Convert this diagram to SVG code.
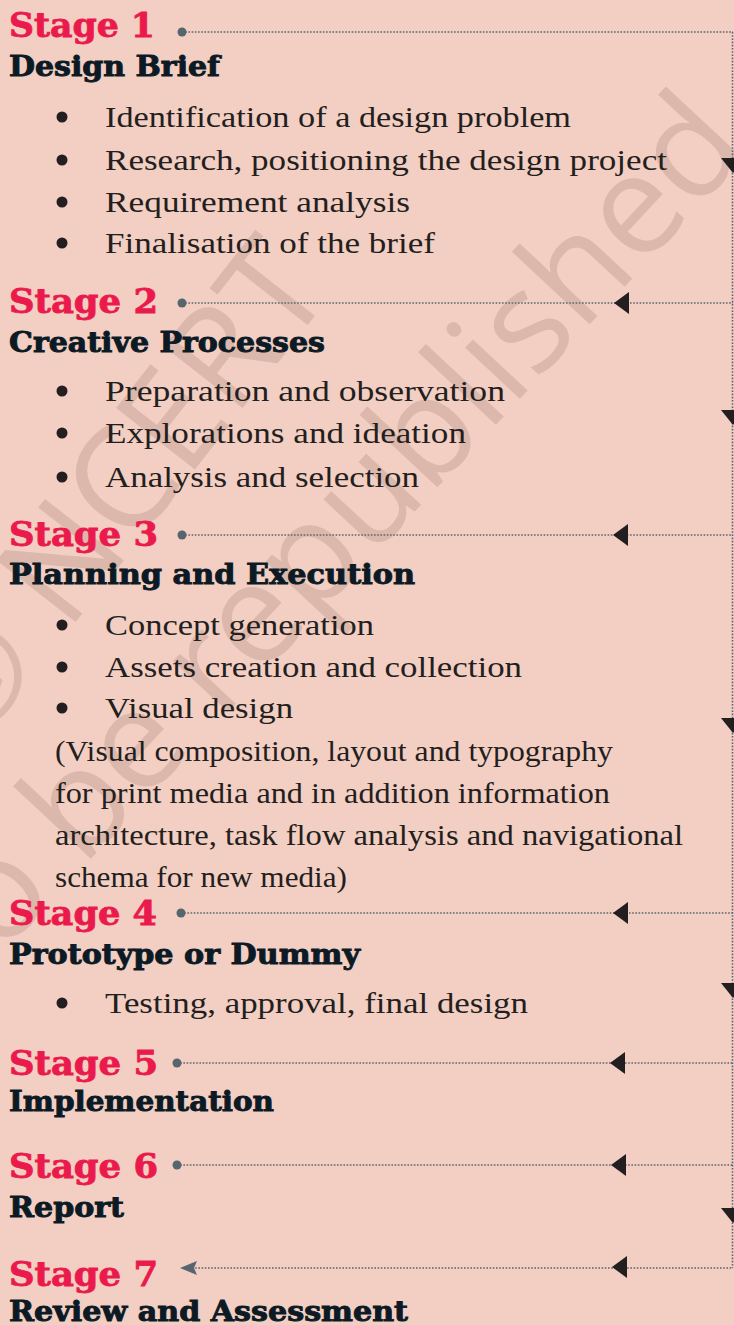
<svg xmlns="http://www.w3.org/2000/svg" width="734" height="1325" viewBox="0 0 734 1325">
<style>
.stg{font-family:"DejaVu Serif","Liberation Serif",serif;font-weight:bold;font-size:33px;fill:#ea1a4c;stroke:#ea1a4c;stroke-width:0.8}
.ttl{font-family:"DejaVu Serif","Liberation Serif",serif;font-weight:bold;font-size:27px;fill:#0b1a24;stroke:#0b1a24;stroke-width:0.9}
.bul{font-family:"Liberation Serif",serif;font-size:29px;fill:#231f20}
.mk{fill:#231f20}
.wm{font-family:"Open Sans",sans-serif;font-size:140px;fill:#dcb7ab}
.ln{stroke:#5b6670;stroke-width:1.6;stroke-dasharray:1.6 1.6;fill:none}
.ah{fill:#231f20}
.dt{fill:#56656f}
</style>
<rect width="734" height="1325" fill="#f3cec2"/>
<g id="watermark">
<text class="wm" transform="translate(335,290) rotate(-52)" text-anchor="end">© NCERT</text>
<text class="wm" transform="translate(752,150) rotate(-47)" text-anchor="end">not to be republished</text>
</g>
<g id="connectors">
<path class="ln" d="M732.5 32V1268"/>
<path class="ln" d="M182 32H733M182 303H733M182 535H733M181 913H733M177 1063H733M177 1165H733M192 1268H733"/>
<circle class="dt" cx="182" cy="32" r="4.5"/>
<circle class="dt" cx="182" cy="303" r="4.5"/>
<circle class="dt" cx="182" cy="535" r="4.5"/>
<circle class="dt" cx="181" cy="913" r="4.5"/>
<circle class="dt" cx="177" cy="1063" r="4.5"/>
<circle class="dt" cx="177" cy="1165" r="4.5"/>
<polygon class="dt" points="180,1268 197,1261 194,1268 197,1275"/>
<polygon class="ah" points="614,303 629,292 629,314"/>
<polygon class="ah" points="613,535 628,524 628,546"/>
<polygon class="ah" points="613,913 628,902 628,924"/>
<polygon class="ah" points="610,1063 625,1052 625,1074"/>
<polygon class="ah" points="611,1165 626,1154 626,1176"/>
<polygon class="ah" points="612,1267 627,1256 627,1278"/>
<polygon class="ah" points="721,158 745,158 733,173"/>
<polygon class="ah" points="721,410 745,410 733,425"/>
<polygon class="ah" points="721,718 745,718 733,733"/>
<polygon class="ah" points="721,983 745,983 733,998"/>
<polygon class="ah" points="721,1208 745,1208 733,1223"/>
</g>
<g id="stage1">
<text class="stg" x="9" y="37" textLength="146" lengthAdjust="spacingAndGlyphs">Stage 1</text>
<text class="ttl" x="9" y="76" textLength="211" lengthAdjust="spacingAndGlyphs">Design Brief</text>
<circle class="mk" cx="62" cy="117" r="5.5"/>
<text class="bul" x="105" y="127" textLength="466" lengthAdjust="spacingAndGlyphs">Identification of a design problem</text>
<circle class="mk" cx="62" cy="160" r="5.5"/>
<text class="bul" x="105" y="170" textLength="562" lengthAdjust="spacingAndGlyphs">Research, positioning the design project</text>
<circle class="mk" cx="62" cy="202" r="5.5"/>
<text class="bul" x="105" y="212" textLength="305" lengthAdjust="spacingAndGlyphs">Requirement analysis</text>
<circle class="mk" cx="62" cy="243" r="5.5"/>
<text class="bul" x="105" y="253" textLength="330" lengthAdjust="spacingAndGlyphs">Finalisation of the brief</text>
</g>
<g id="stage2">
<text class="stg" x="9" y="313" textLength="149" lengthAdjust="spacingAndGlyphs">Stage 2</text>
<text class="ttl" x="9" y="352" textLength="316" lengthAdjust="spacingAndGlyphs">Creative Processes</text>
<circle class="mk" cx="62" cy="391" r="5.5"/>
<text class="bul" x="105" y="401" textLength="400" lengthAdjust="spacingAndGlyphs">Preparation and observation</text>
<circle class="mk" cx="62" cy="433" r="5.5"/>
<text class="bul" x="105" y="443" textLength="361" lengthAdjust="spacingAndGlyphs">Explorations and ideation</text>
<circle class="mk" cx="62" cy="477" r="5.5"/>
<text class="bul" x="105" y="487" textLength="314" lengthAdjust="spacingAndGlyphs">Analysis and selection</text>
</g>
<g id="stage3">
<text class="stg" x="9" y="546" textLength="149" lengthAdjust="spacingAndGlyphs">Stage 3</text>
<text class="ttl" x="9" y="584" textLength="406" lengthAdjust="spacingAndGlyphs">Planning and Execution</text>
<circle class="mk" cx="62" cy="625" r="5.5"/>
<text class="bul" x="105" y="635" textLength="269" lengthAdjust="spacingAndGlyphs">Concept generation</text>
<circle class="mk" cx="62" cy="667" r="5.5"/>
<text class="bul" x="105" y="677" textLength="417" lengthAdjust="spacingAndGlyphs">Assets creation and collection</text>
<circle class="mk" cx="62" cy="708" r="5.5"/>
<text class="bul" x="105" y="718" textLength="188" lengthAdjust="spacingAndGlyphs">Visual design</text>
<text class="bul" x="55" y="761" textLength="558" lengthAdjust="spacingAndGlyphs">(Visual composition, layout and typography</text>
<text class="bul" x="55" y="803" textLength="555" lengthAdjust="spacingAndGlyphs">for print media and in addition information</text>
<text class="bul" x="55" y="845" textLength="628" lengthAdjust="spacingAndGlyphs">architecture, task flow analysis and navigational</text>
<text class="bul" x="55" y="887" textLength="292" lengthAdjust="spacingAndGlyphs">schema for new media)</text>
</g>
<g id="stage4">
<text class="stg" x="9" y="925" textLength="148" lengthAdjust="spacingAndGlyphs">Stage 4</text>
<text class="ttl" x="9" y="964" textLength="351" lengthAdjust="spacingAndGlyphs">Prototype or Dummy</text>
<circle class="mk" cx="62" cy="1003" r="5.5"/>
<text class="bul" x="105" y="1013" textLength="423" lengthAdjust="spacingAndGlyphs">Testing, approval, final design</text>
</g>
<g id="stage5">
<text class="stg" x="9" y="1075" textLength="149" lengthAdjust="spacingAndGlyphs">Stage 5</text>
<text class="ttl" x="9" y="1111" textLength="265" lengthAdjust="spacingAndGlyphs">Implementation</text>
</g>
<g id="stage6">
<text class="stg" x="9" y="1178" textLength="149" lengthAdjust="spacingAndGlyphs">Stage 6</text>
<text class="ttl" x="9" y="1217" textLength="115" lengthAdjust="spacingAndGlyphs">Report</text>
</g>
<g id="stage7">
<text class="stg" x="9" y="1286" textLength="149" lengthAdjust="spacingAndGlyphs">Stage 7</text>
<text class="ttl" x="9" y="1321" textLength="399" lengthAdjust="spacingAndGlyphs">Review and Assessment</text>
</g>
</svg>
